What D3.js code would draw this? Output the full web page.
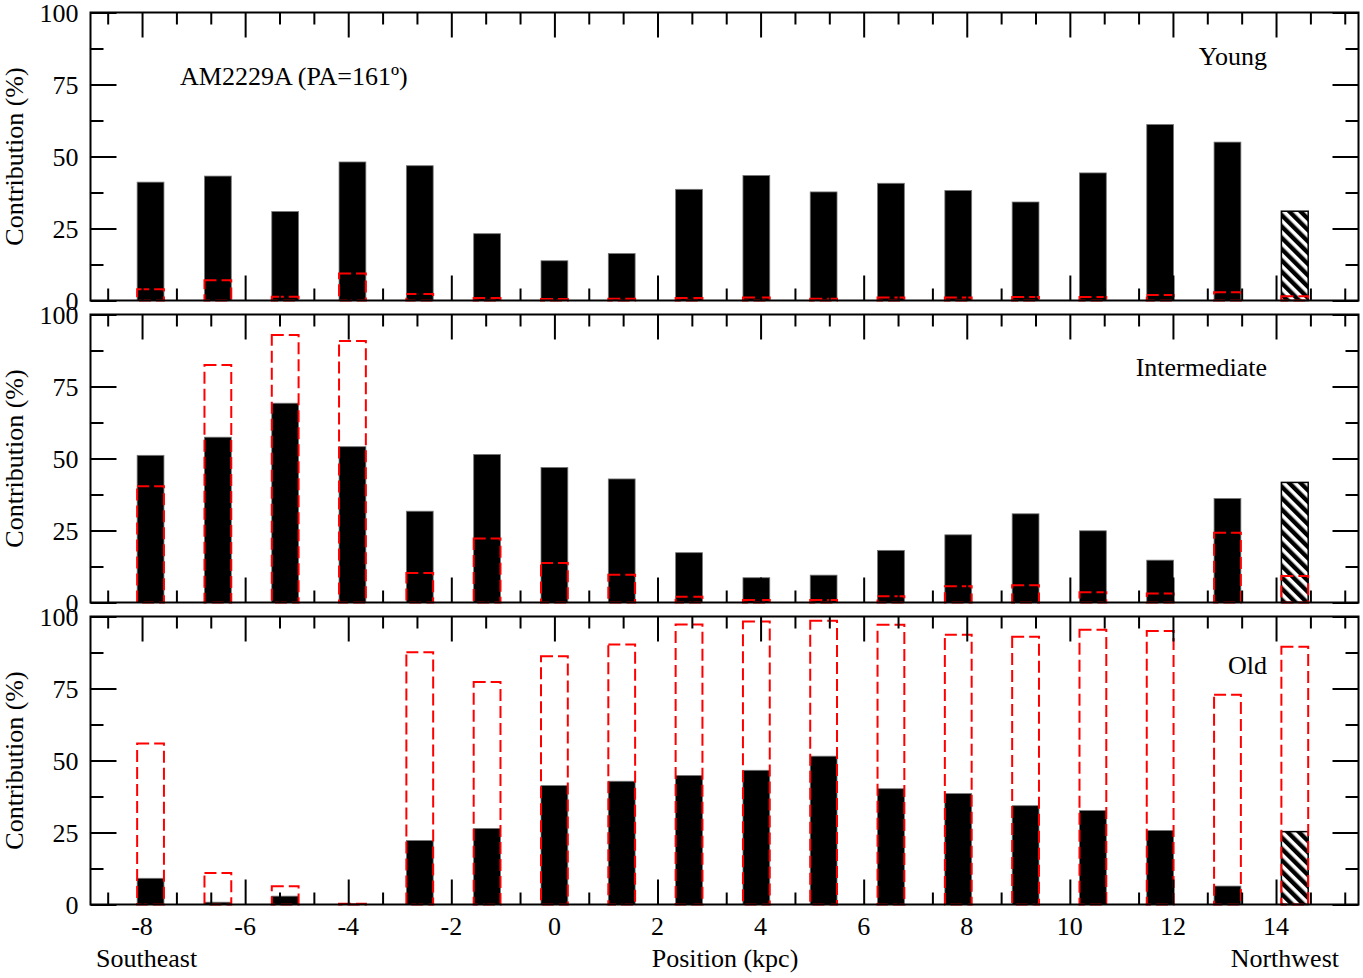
<!DOCTYPE html>
<html>
  <head>
    <meta charset=utf-8>
    <title>AM2229A population contributions</title>
    <style>
      body{ margin:0; background:#fff; }
      text{ font-family:"Liberation Serif", "DejaVu Serif", serif; fill:#000; }
      .frame{ fill:none; stroke:#000; stroke-width:2; }
      .axis path{ display:none; }
      .axis line{ stroke:#000; stroke-width:2; }
      .axis text{ font-size:26px; font-family:"Liberation Serif", serif; }
    </style>
  </head>
  <body>
    <script src="https://d3js.org/d3.v7.min.js"></script>
    <script>
      // bar positions along the slit (kpc)
      var positions = [-7.835, -6.529, -5.223, -3.918, -2.612, -1.306, 0, 1.306, 2.612,
                       3.918, 5.223, 6.529, 7.835, 9.141, 10.447, 11.752, 13.058, 14.364];

      // contributions (%) : black = flux, red dashed = mass ; last bar is the hatched one
      var youngFlux = [41.1, 43.2, 30.9, 48.1, 46.8, 23.2, 13.8, 16.3, 38.6, 43.4, 37.7, 40.7, 38.2, 34.2, 44.3, 61.1, 55.0, 31.0];
      var youngMass = [3.9, 7.0, 1.3, 9.4, 2.3, 0.9, 0.5, 0.6, 0.9, 1.0, 0.6, 1.0, 1.0, 1.2, 1.2, 1.9, 2.9, 1.5];
      var interFlux = [51.1, 57.4, 69.2, 54.1, 31.7, 51.4, 46.9, 42.9, 17.3, 8.6, 9.5, 18.1, 23.5, 30.8, 24.9, 14.7, 36.1, 41.7];
      var interMass = [40.4, 82.5, 92.9, 90.8, 10.2, 22.2, 13.7, 9.6, 2.0, 0.9, 0.9, 2.2, 5.6, 6.0, 3.6, 3.1, 24.2, 9.2];
      var oldFlux   = [9.1, 0.8, 2.9, 0.2, 22.2, 26.4, 41.3, 42.8, 44.8, 46.6, 51.5, 40.2, 38.5, 34.3, 32.6, 25.7, 6.4, 25.3];
      var oldMass   = [55.9, 10.9, 6.3, 0.3, 87.6, 77.3, 86.2, 90.3, 97.2, 98.3, 98.5, 97.1, 93.7, 93.0, 95.4, 95.0, 72.8, 89.5];

      var panelNames = ["Young", "Intermediate", "Old"];
      var xMajor = [-8, -6, -4, -2, 0, 2, 4, 6, 8, 10, 12, 14];
      var yMajor = [0, 25, 50, 75, 100];

      var width = 1363, height = 978;
      var left = 90.5, right = 1358.5;
      var panelTops = [12.5, 314.5, 616.5], panelH = 288;
      var barW = 0.52;
      var fs = 26;

      var svg = d3.select("body").append("svg")
        .attr("width", width)
        .attr("height", height);

      var defs = svg.append("defs");
      var pat = defs.append("pattern")
        .attr("id", "hatch")
        .attr("patternUnits", "userSpaceOnUse")
        .attr("width", 8).attr("height", 8)
        .attr("patternTransform", "rotate(-45)");
      pat.append("rect").attr("width", 8).attr("height", 8).attr("fill", "#fff");
      pat.append("rect").attr("width", 4.4).attr("height", 8).attr("fill", "#000");

      var x = d3.scaleLinear().domain([-9, 15.6]).range([left, right]);

      // minor x ticks every 2/3 kpc, minor y ticks every 12.5
      var xMinor = d3.range(-26, 47).map(function(k) { return k * 2 / 3; })
        .filter(function(v) { return v > -9 && v < 15.6 && Math.abs(v / 2 - Math.round(v / 2)) > 1e-6; });
      var yMinor = [12.5, 37.5, 62.5, 87.5];

      var series = [[youngFlux, youngMass], [interFlux, interMass], [oldFlux, oldMass]];

      series.forEach(function(s, p) {
        var top = panelTops[p];
        var y = d3.scaleLinear().domain([0, 100]).range([top + panelH, top]);
        var g = svg.append("g");
        var last = positions.length - 1;

        // flux bars
        g.selectAll("rect.flux").data(s[0]).enter().append("rect")
          .attr("class", "flux")
          .attr("x", function(d, i) { return x(positions[i] - barW / 2); })
          .attr("width", function(d, i) { return x(positions[i] + barW / 2) - x(positions[i] - barW / 2); })
          .attr("y", function(d) { return y(d); })
          .attr("height", function(d) { return y(0) - y(d); })
          .attr("fill", function(d, i) { return i === last ? "url(#hatch)" : "#000"; })
          .attr("stroke", function(d, i) { return i === last ? "#000" : "#777"; })
          .attr("stroke-width", function(d, i) { return i === last ? 1.5 : 0.8; });

        // mass bars, red dashed outline
        g.selectAll("rect.mass").data(s[1]).enter().append("rect")
          .attr("class", "mass")
          .attr("x", function(d, i) { return x(positions[i] - barW / 2); })
          .attr("width", function(d, i) { return x(positions[i] + barW / 2) - x(positions[i] - barW / 2); })
          .attr("y", function(d) { return y(d); })
          .attr("height", function(d) { return y(0) - y(d); })
          .attr("fill", "none")
          .attr("stroke", "#f00")
          .attr("stroke-width", 2)
          .attr("stroke-dasharray", "12,5");

        // inward ticks on all four sides
        var bottomY = top + panelH;
        svg.append("g").attr("class", "axis").attr("transform", "translate(0," + bottomY + ")")
          .call(d3.axisTop(x).tickValues(xMajor).tickSize(25).tickFormat(""));
        svg.append("g").attr("class", "axis").attr("transform", "translate(0," + bottomY + ")")
          .call(d3.axisTop(x).tickValues(xMinor).tickSize(12).tickFormat(""));
        svg.append("g").attr("class", "axis").attr("transform", "translate(0," + top + ")")
          .call(d3.axisBottom(x).tickValues(xMajor).tickSize(25).tickFormat(""));
        svg.append("g").attr("class", "axis").attr("transform", "translate(0," + top + ")")
          .call(d3.axisBottom(x).tickValues(xMinor).tickSize(12).tickFormat(""));

        var yl = svg.append("g").attr("class", "axis").attr("transform", "translate(" + left + ",0)")
          .call(d3.axisRight(y).tickValues(yMajor).tickSize(26).tickFormat(d3.format("d")));
        yl.selectAll("text").attr("x", -12).attr("text-anchor", "end").attr("dy", "0.34em");
        svg.append("g").attr("class", "axis").attr("transform", "translate(" + left + ",0)")
          .call(d3.axisRight(y).tickValues(yMinor).tickSize(13).tickFormat(""));
        svg.append("g").attr("class", "axis").attr("transform", "translate(" + right + ",0)")
          .call(d3.axisLeft(y).tickValues(yMajor).tickSize(26).tickFormat(""));
        svg.append("g").attr("class", "axis").attr("transform", "translate(" + right + ",0)")
          .call(d3.axisLeft(y).tickValues(yMinor).tickSize(13).tickFormat(""));

        svg.append("rect").attr("class", "frame")
          .attr("x", left).attr("y", top)
          .attr("width", right - left).attr("height", panelH);

        svg.append("text")
          .attr("text-anchor", "middle")
          .attr("font-size", fs)
          .attr("transform", "translate(23," + (top + panelH / 2) + ")rotate(-90)")
          .text("Contribution (%)");

        svg.append("text")
          .attr("text-anchor", "end")
          .attr("font-size", fs)
          .attr("x", 1267)
          .attr("y", top + [52.5, 61, 57][p])
          .text(panelNames[p]);
      });

      // x tick labels under the last panel
      var lastBottom = panelTops[2] + panelH;
      svg.append("g").selectAll("text").data(xMajor).enter().append("text")
        .attr("text-anchor", "middle")
        .attr("font-size", fs)
        .attr("x", function(d) { return x(d); })
        .attr("y", lastBottom + 30)
        .text(function(d) { return d; });

      svg.append("text").attr("font-size", fs).attr("x", 180).attr("y", 85)
        .text("AM2229A (PA=161º)");

      svg.append("text").attr("font-size", fs).attr("x", 96).attr("y", 967).text("Southeast");
      svg.append("text").attr("font-size", fs).attr("text-anchor", "middle")
        .attr("x", 725).attr("y", 967).text("Position (kpc)");
      svg.append("text").attr("font-size", fs).attr("text-anchor", "end")
        .attr("x", 1339).attr("y", 967).text("Northwest");
    </script>
  </body>
</html>
